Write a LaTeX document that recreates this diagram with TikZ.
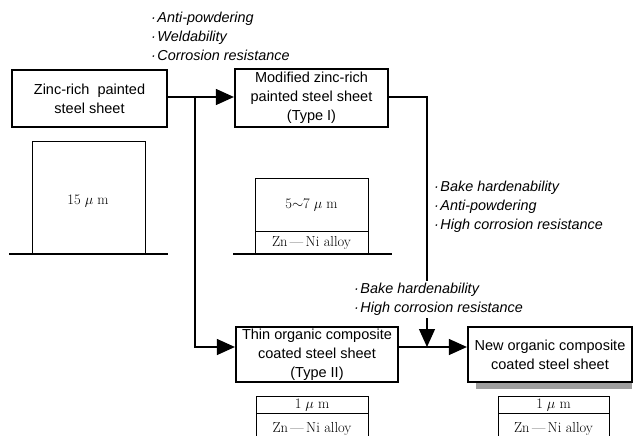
\documentclass[tikz,border=0pt]{standalone}
\usepackage{fontspec}
\setmainfont{Latin Modern Roman}
\newfontfamily\boxfont{Liberation Sans}
\usetikzlibrary{arrows.meta}
\tikzset{
  mainbox/.style={draw, line width=2.2pt, align=center, font=\boxfont\fontsize{14.5}{19}\selectfont, inner sep=0pt},
  conn/.style={line width=1.2pt},
  tri/.style={-{Triangle[length=18pt,width=16pt]}},
  lbl/.style={align=left, anchor=west, font=\boxfont\itshape\fontsize{14.4}{19}\selectfont, inner sep=0pt},
  layer/.style={draw, line width=0.9pt},
  base/.style={line width=2.4pt},
  ltext/.style={font=\fontsize{14.5}{16}\selectfont, inner sep=0pt}
}
\newcommand{\bul}{\kern1pt·\kern1.5pt}
\begin{document}
\begin{tikzpicture}[x=1pt,y=-1pt]
\useasboundingbox (0,0) rectangle (637,436);
\clip (0,0) rectangle (637,436);
% main boxes
\node[mainbox, minimum width=155pt, minimum height=57pt] (zr) at (89.5,98.5) {Zinc-rich\ \ painted\\steel sheet};
\node[mainbox, minimum width=153pt, minimum height=58pt] (t1) at (311.5,98) {Modified zinc-rich\\painted steel sheet\\(Type I)};
\node[mainbox, minimum width=162pt, minimum height=55pt] (t2) at (317,354.5) {Thin organic composite\\coated steel sheet\\(Type II)};
\fill[gray!75] (476,382) rectangle (632,389);
\node[mainbox, fill=white, minimum width=164pt, minimum height=55pt] (nw) at (550,354.5) {New organic composite\\coated steel sheet};
% labels
\node[lbl] (l1) at (150,36) {\bul Anti-powdering\\\bul Weldability\\\bul Corrosion resistance};
\node[lbl] (l2) at (433,206.5) {\bul Bake hardenability\\\bul Anti-powdering\\\bul High corrosion resistance};
% connectors
\coordinate (j1) at (195,97);
\coordinate (j2) at (195,347);
\coordinate (c1) at (427,97);
\coordinate (m) at (427,347);
\draw[conn, tri] (zr.east |- j1) -- (t1.west |- j1);
\draw[conn, tri] (j1) -- (j2) -- (t2.west |- j2);
\draw[conn, tri] (t1.east |- c1) -- (c1) -- (m);
\draw[conn, tri] (t2.east |- m) -- (nw.west |- m);
\node[lbl, fill=white, inner sep=2pt] (l3) at (351,299.5) {\bul Bake hardenability\\\bul High corrosion resistance};
% layer diagrams
\draw[layer] (32,254) -- (32,141) -- (145,141) -- (145,254);
\draw[base] (9,254) -- (168,254);
\node[ltext] (a1) at (88,201) {15\;$\mu$\;m};
\draw[layer] (255,254) -- (255,178) -- (368,178) -- (368,254);
\draw[layer] (255,231) -- (368,231);
\draw[base] (233,254) -- (392,254);
\node[ltext] (b1) at (311.5,205) {5$\sim$7\;$\mu$\;m};
\node[ltext] (b2) at (311.5,243) {Zn\,\textemdash\,Ni alloy};
\draw[layer] (256,440) -- (256,396) -- (368,396) -- (368,440);
\draw[layer] (256,413) -- (368,413);
\node[ltext] (c1t) at (312,405) {1\;$\mu$\;m};
\node[ltext] (c2t) at (312,429) {Zn\,\textemdash\,Ni alloy};
\draw[layer] (498,440) -- (498,396) -- (609,396) -- (609,440);
\draw[layer] (498,413) -- (609,413);
\node[ltext] (d1t) at (553.5,405) {1\;$\mu$\;m};
\node[ltext] (d2t) at (553.5,429) {Zn\,\textemdash\,Ni alloy};
\end{tikzpicture}
\end{document}
